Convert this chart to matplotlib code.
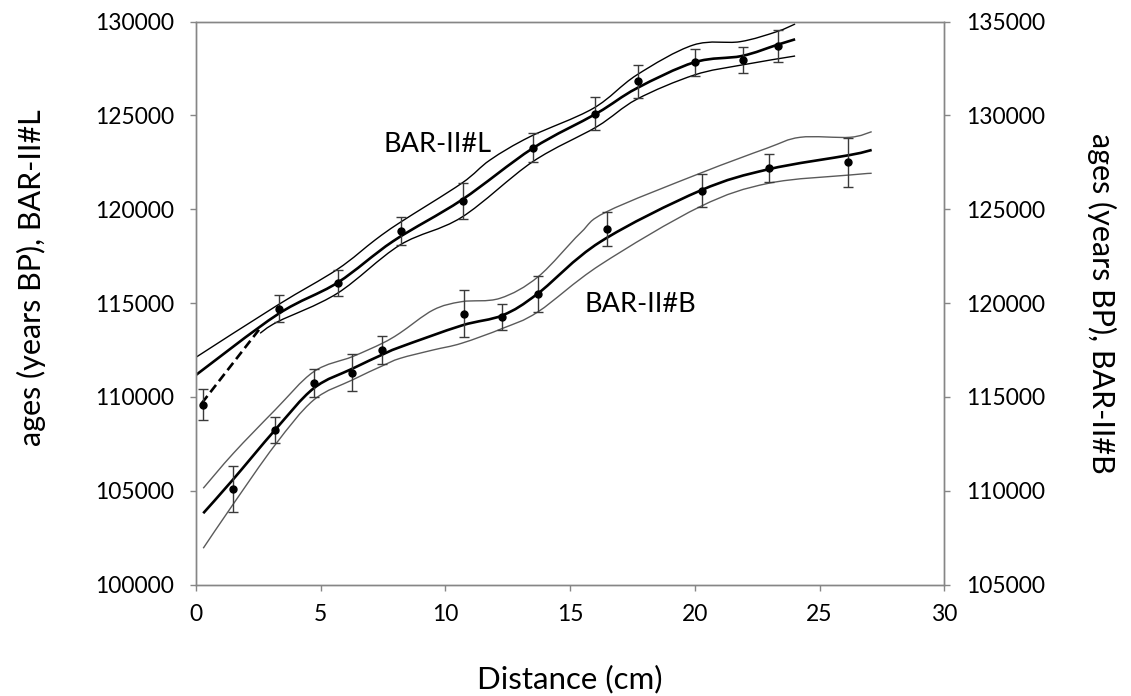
import matplotlib
matplotlib.use('Agg')
import matplotlib.pyplot as plt
from matplotlib.path import Path
from matplotlib.patches import PathPatch

plt.rcParams['font.family'] = ['Lato', 'DejaVu Sans']

# BAR-II#L (eje izquierdo): puntos con error
l_x = [0.27, 3.31, 5.71, 8.22, 10.71, 13.51, 16.0, 17.72, 20.01, 21.92, 23.33]
l_age = [109583, 114698, 116078, 118838, 120436, 123276, 125088, 126814, 127826, 127965, 128711]
l_err = [810, 730, 693, 730, 943, 762, 895, 879, 719, 703, 852]

# BAR-II#L modelo de edad (media, superior, inferior)
l_mean_x = [0, 3.28, 5.67, 7.91, 10.65, 13.50, 16.07, 17.67, 19.98, 21.88, 23.28, 24.02]
l_mean = [111166, 114400, 116080, 118300, 120490, 123244, 125109, 126441, 127826, 128162, 128748, 129052]
l_up_x = [0, 3.28, 5.67, 7.18, 8.18, 10.65, 11.79, 13.39, 15.93, 17.67, 19.94, 21.81, 23.28, 24.02]
l_up = [112109, 114895, 116797, 118358, 119291, 121379, 122621, 123862, 125375, 127150, 128748, 128924, 129457, 129867]
l_lo_x = [2.57, 3.28, 5.67, 8.18, 10.65, 13.50, 16.07, 17.67, 19.98, 21.88, 24.02]
l_lo = [113387, 114005, 115519, 118092, 119568, 122530, 124395, 125855, 127150, 127682, 128162]
l_dash_x = [0.23, 2.57]
l_dash = [109658, 113654]

# BAR-II#B (eje derecho): puntos con error
b_x = [1.47, 3.17, 4.72, 6.27, 7.47, 10.73, 12.28, 13.72, 16.49, 20.29, 22.97, 26.14]
b_age = [110092, 113235, 115723, 116272, 117513, 119432, 119256, 120481, 123928, 125985, 127179, 127498]
b_err = [1241, 682, 757, 986, 746, 1241, 709, 970, 906, 879, 757, 1321]

# BAR-II#B modelo de edad
b_mean_x = [0.29, 1.47, 3.17, 4.72, 6.27, 7.47, 8.18, 10.65, 12.30, 13.72, 16.20, 20.21, 22.95, 26.22, 27.09]
b_mean = [108797, 110571, 113235, 115457, 116500, 117250, 117650, 118800, 119350, 120519, 123252, 125985, 127125, 127887, 128154]
b_up_x = [0.29, 1.50, 3.17, 4.72, 6.27, 7.47, 8.18, 9.51, 10.65, 12.19, 13.72, 15.40, 16.47, 20.21, 22.88, 24.22, 26.22, 27.09]
b_up = [110129, 111994, 114301, 116341, 117141, 117855, 118403, 119629, 120071, 120252, 121403, 123715, 124866, 126912, 128244, 128830, 128830, 129129]
b_lo_x = [0.29, 1.47, 3.17, 4.72, 6.27, 7.47, 8.18, 9.51, 10.65, 12.30, 13.72, 16.20, 20.21, 22.95, 26.22, 27.09]
b_lo = [106932, 109239, 112436, 114834, 115900, 116650, 117050, 117498, 117855, 118654, 119538, 122027, 125133, 126379, 126822, 126912]

AXIS_GRAY = '#868686'
CURVE_GRAY = '#5a5a5a'


def linea_suave(a, xs, ys, **kw):
    # línea suavizada tipo Excel: Bézier cúbica por los puntos leídos
    n = len(xs)
    verts = [(xs[0], ys[0])]
    codes = [Path.MOVETO]
    for i in range(n - 1):
        x0, y0 = xs[max(i - 1, 0)], ys[max(i - 1, 0)]
        x1, y1 = xs[i], ys[i]
        x2, y2 = xs[i + 1], ys[i + 1]
        x3, y3 = xs[min(i + 2, n - 1)], ys[min(i + 2, n - 1)]
        c1 = (x1 + (x2 - x0) / 6, y1 + (y2 - y0) / 6)
        c2 = (x2 - (x3 - x1) / 6, y2 - (y3 - y1) / 6)
        verts += [c1, c2, (x2, y2)]
        codes += [Path.CURVE4] * 3
    a.add_patch(PathPatch(Path(verts, codes), fill=False, capstyle='butt', **kw))


fig = plt.figure(figsize=(11.31, 6.96), dpi=100)
ax = fig.add_axes([0.1733, 0.1602, 0.6616, 0.8089])
ax2 = ax.twinx()

# BAR-II#L
linea_suave(ax, l_up_x, l_up, edgecolor='black', lw=1.0)
linea_suave(ax, l_lo_x, l_lo, edgecolor='black', lw=1.0)
linea_suave(ax, l_mean_x, l_mean, edgecolor='black', lw=1.9)
ax.plot(l_dash_x, l_dash, color='black', lw=1.9, dashes=(3.5, 1.8))
ax.errorbar(l_x, l_age, yerr=l_err, fmt='o', color='black', ms=5,
            ecolor='#3a3a3a', elinewidth=1.0, capsize=3.5, capthick=1.0)

# BAR-II#B
linea_suave(ax2, b_up_x, b_up, edgecolor=CURVE_GRAY, lw=1.0)
linea_suave(ax2, b_lo_x, b_lo, edgecolor=CURVE_GRAY, lw=1.0)
linea_suave(ax2, b_mean_x, b_mean, edgecolor='black', lw=1.9)
ax2.errorbar(b_x, b_age, yerr=b_err, fmt='o', color='black', ms=5,
             ecolor='#3a3a3a', elinewidth=1.0, capsize=3.5, capthick=1.0)

ax.set_xlim(0, 30)
ax.set_ylim(100000, 130000)
ax2.set_ylim(105000, 135000)
ax.set_xticks(range(0, 31, 5))
ax.set_yticks(range(100000, 130001, 5000))
ax2.set_yticks(range(105000, 135001, 5000))

for a in (ax, ax2):
    for s in a.spines.values():
        s.set_color(AXIS_GRAY)
        s.set_linewidth(1.0)
    a.tick_params(direction='out', length=4, width=1.0, color=AXIS_GRAY,
                  labelsize=16.5, pad=12)

ax.tick_params(axis='x', pad=10)

ax.set_xlabel('Distance (cm)', fontsize=22.5, labelpad=29)
ax.set_ylabel('ages (years BP), BAR-II#L', fontsize=22, labelpad=35)
ax.yaxis.label.set_y(0.545)
ax2.set_ylabel('ages (years BP), BAR-II#B', fontsize=22, labelpad=30,
               rotation=270, va='bottom')

ax.text(7.5, 123420, 'BAR-II#L', fontsize=19.5, va='center', ha='left')
ax.text(15.56, 114895, 'BAR-II#B', fontsize=19.5, va='center', ha='left')

fig.savefig('out.png', dpi=100)
